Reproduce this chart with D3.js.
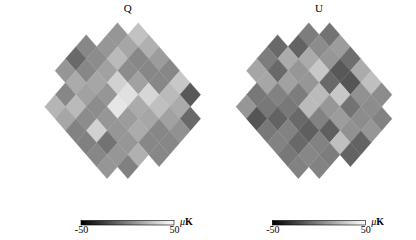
<!DOCTYPE html>
<html>
<head>
<meta charset="utf-8">
<script src="https://d3js.org/d3.v7.min.js"></script>
<style>
  html, body { margin: 0; padding: 0; background: #fff; }
  svg { display: block; }
  text { font-family: "Liberation Serif", serif; fill: #000; }
</style>
</head>
<body>
<div id="chart"></div>
<script>
// Pixel rows of the rotated map, top to bottom, and the first column in each
const rowIds = [-8, -7, -6, -5, -4, -3, -2, -1, 0, 1, 2, 3];
const rowStarts = [2, -1, -2, -3, -2, -3, -4, -3, -2, -1, 0, 1];

// Temperature in microkelvin for each pixel
const qValues = [
  [9, 26],
  [3, 9, 15, 19],
  [-9, 5, 23, 3, 11],
  [9, 3, 13, 5, 3, 3],
  [17, 15, 32, 13, 3, 28],
  [3, 13, 9, 38, 34, 23, -15],
  [21, 23, 5, 40, 17, 25, 17],
  [15, 5, 9, 11, 15, 13, -9],
  [1, 32, 9, 17, 3, 7],
  [0, -5, 9, 3, 3],
  [3, 9, 19, 3],
  [9, 0],
];
const uValues = [
  [-1, -5],
  [-9, -11, 5, 11],
  [-1, 17, 17, 9, -7],
  [15, -9, 9, 28, -15, 17],
  [15, 13, 9, -9, -17, 25],
  [-3, 1, -1, 23, 28, 7, 5],
  [9, -3, -3, 23, 9, -5, 5],
  [-17, -11, -9, 1, 11, 5, 1],
  [-3, 1, -13, -13, 7, 9],
  [1, -9, 1, 25, -11],
  [-3, 3, -1, -11],
  [1, 1],
];

const titles = ["Q", "U"];
const maps = [qValues, uValues];
const tickValues = [-50, 50];
const panelOffsets = [0, 191.33];

const width = 416;
const height = 240;

const svg = d3
  .select("#chart")
  .append("svg")
  .attr("width", width)
  .attr("height", height);

const defs = svg.append("defs");
defs
  .append("filter")
  .attr("id", "soft")
  .attr("x", "-5%")
  .attr("y", "-5%")
  .attr("width", "110%")
  .attr("height", "110%")
  .append("feGaussianBlur")
  .attr("stdDeviation", 0.6);

const gradient = defs.append("linearGradient").attr("id", "ramp");
gradient.append("stop").attr("offset", 0).attr("stop-color", "#000");
gradient.append("stop").attr("offset", 1).attr("stop-color", "#fff");

const color = d3.scaleLinear().domain([-50, 50]).range(["#000", "#fff"]);

// Lattice scales: one column is half a diamond wide, one row half a diamond tall
const xCell = d3.scaleLinear().domain([-4, 9]).range([55.07, 190.27]);
const yCell = d3.scaleLinear().domain([-8, 3]).range([34.67, 166.67]);
const barScale = d3.scaleLinear().domain(tickValues).range([81, 174]);

const halfW = xCell(1) - xCell(0);
const halfH = yCell(1) - yCell(0);

function diamond(d) {
  const x = xCell(d.col);
  const y = yCell(d.row);
  return d3.line()([
    [x, y - halfH],
    [x + halfW, y],
    [x, y + halfH],
    [x - halfW, y],
  ]) + "Z";
}

maps.forEach((rows, p) => {
  const cells = rows.flatMap((vals, r) =>
    vals.map((value, k) => ({
      row: rowIds[r],
      col: rowStarts[r] + k * 2,
      value,
    })),
  );

  const panel = svg
    .append("g")
    .attr("transform", `translate(${panelOffsets[p]},0)`);

  panel
    .append("text")
    .attr("x", 127.7)
    .attr("y", 12)
    .attr("text-anchor", "middle")
    .attr("font-size", 11)
    .text(titles[p]);

  panel
    .append("g")
    .attr("filter", "url(#soft)")
    .selectAll("path")
    .data(cells)
    .enter()
    .append("path")
    .attr("d", diamond)
    .attr("fill", (d) => color(d.value))
    .attr("stroke", (d) => color(d.value))
    .attr("stroke-width", 0.3);

  // Colour bar
  panel
    .append("rect")
    .attr("x", barScale(-50))
    .attr("y", 220.5)
    .attr("width", barScale(50) - barScale(-50))
    .attr("height", 4.5)
    .attr("fill", "url(#ramp)")
    .attr("stroke", "#000")
    .attr("stroke-width", 0.6);

  const axis = panel
    .append("g")
    .attr("transform", "translate(0,222)")
    .call(
      d3
        .axisBottom(barScale)
        .tickValues(tickValues)
        .tickFormat((d) => String(d))
        .tickSize(0)
        .tickPadding(4),
    );
  axis.select(".domain").remove();
  axis
    .selectAll("text")
    .attr("font-family", '"Liberation Serif", serif')
    .attr("font-size", 10)
    .attr("fill", "#000");

  const unit = panel
    .append("text")
    .attr("x", 180)
    .attr("y", 224.5)
    .attr("font-size", 10);
  unit.append("tspan").attr("font-style", "italic").text("\u03bc");
  unit.append("tspan").attr("font-weight", "bold").text("K");
});
</script>
</body>
</html>
